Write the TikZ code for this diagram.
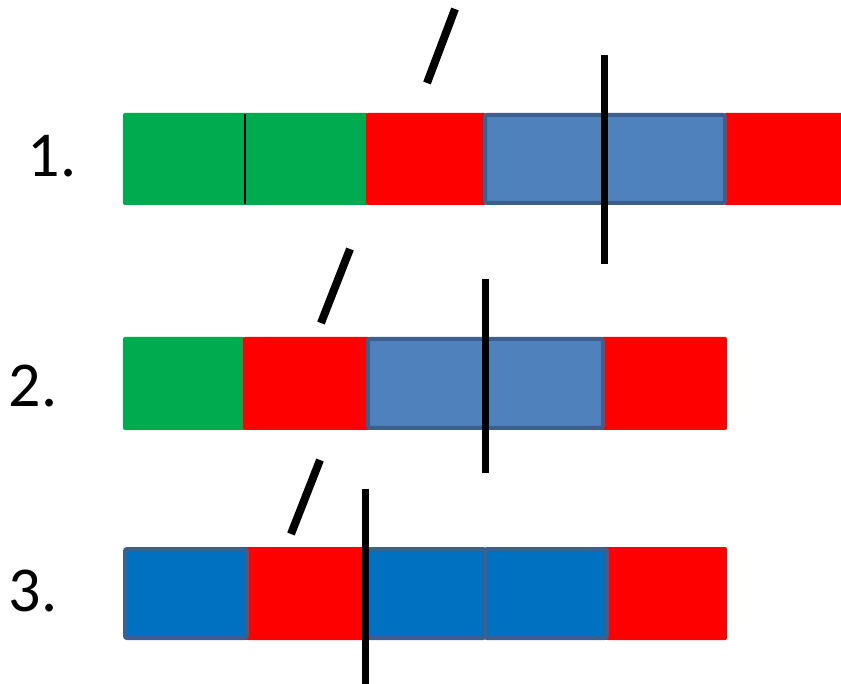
\documentclass[tikz,border=0pt]{standalone}
\usepackage{fontspec}
\setmainfont{Carlito}
\definecolor{segGreen}{HTML}{00AA4E}
\definecolor{segRed}{HTML}{FF0000}
\definecolor{segSteel}{HTML}{4F81BD}
\definecolor{segBlue}{HTML}{0070C0}
\definecolor{segEdge}{HTML}{3C5F8C}

\begin{document}
\begin{tikzpicture}[
    x=1pt, y=-1pt,
    green seg/.style={fill=segGreen, rounded corners=2pt},
    red seg/.style={fill=segRed, rounded corners=2pt},
    steel seg/.style={fill=segSteel, draw=segEdge, line width=4pt, rounded corners=2pt},
    blue seg/.style={fill=segBlue, draw=segEdge, line width=4pt, rounded corners=2pt},
    cut/.style={line width=7pt},
    slash/.style={line width=8pt},
    rowlabel/.style={font=\fontsize{64}{64}\selectfont, anchor=center, inner sep=0pt},
]
    \useasboundingbox (0,0) rectangle (841,684);

    %==================== ROW 1 ====================
    \node[rowlabel] (l1) at (52,156) {1.};
    \fill[green seg] (123,113) rectangle (368,205);
    \draw[line width=1.5pt] (245,114) -- (245,204);
    \fill[red seg] (366,113) rectangle (486,205);
    \fill[red seg] (724,113) rectangle (845,205);
    \draw[steel seg] (485,115) rectangle (725,203);
    \draw[cut] (604,55) -- (604,264);
    \draw[slash] (455,9) -- (427,83);

    %==================== ROW 2 ====================
    \node[rowlabel] (l2) at (33,386) {2.};
    \fill[green seg] (123,337) rectangle (245,430);
    \fill[red seg] (243,337) rectangle (370,430);
    \fill[red seg] (601,337) rectangle (727,430);
    \draw[steel seg] (368,339) rectangle (603,428);
    \draw[cut] (485,279) -- (485,473);
    \draw[slash] (350,249) -- (321,323);

    %==================== ROW 3 ====================
    \node[rowlabel] (l3) at (33,591) {3.};
    \fill[red seg] (245,547) rectangle (367,640);
    \fill[red seg] (605,547) rectangle (727,640);
    \draw[blue seg] (125,549) rectangle (247,638);
    \draw[blue seg] (367,549) rectangle (485,638);
    \draw[blue seg] (485,549) rectangle (607,638);
    \draw[cut] (365,489) -- (365,684);
    \draw[slash] (320,460) -- (291,534);

\end{tikzpicture}
\end{document}
